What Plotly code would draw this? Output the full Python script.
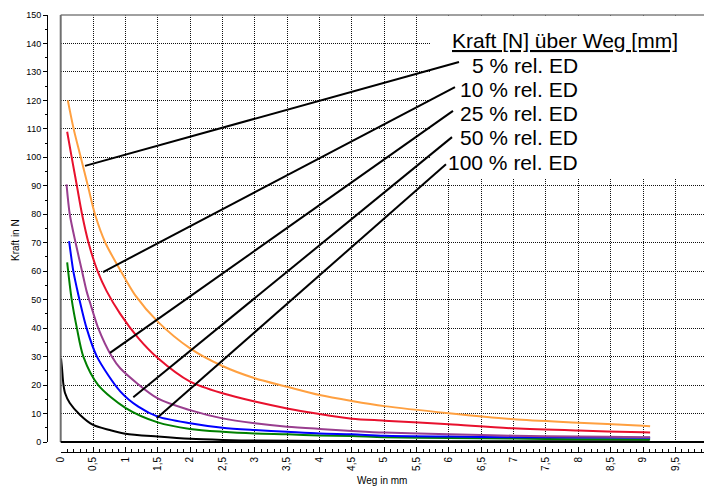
import plotly.graph_objects as go

# ---------------- data ----------------
x_orange = [0.11, 0.2, 0.31, 0.42, 0.53, 0.69, 0.92, 1.15, 1.5, 2.0, 2.5, 3.0, 3.5, 4.0, 4.5, 5.0, 6.0, 7.0, 8.0, 9.0, 9.11]
y_orange = [120, 110, 100, 90, 80, 70, 60.4, 51.6, 42.3, 32.9, 26.7, 22.4, 19.4, 16.5, 14.4, 12.6, 10.1, 8.0, 6.8, 5.7, 5.5]

x_red = [0.1, 0.17, 0.25, 0.33, 0.43, 0.57, 0.71, 0.92, 1.2, 1.5, 2.0, 2.5, 3.0, 3.5, 4.0, 4.5, 5.0, 6.0, 7.0, 8.0, 9.0, 9.11]
y_red = [109, 100, 90, 80, 70, 60, 53, 45, 36.5, 29.5, 21.2, 17.1, 14.2, 11.8, 9.8, 8.2, 7.5, 6.2, 4.8, 4.0, 3.4, 3.3]

x_purple = [0.09, 0.14, 0.23, 0.33, 0.40, 0.46, 0.58, 0.79, 0.92, 1.5, 2.0, 2.5, 3.0, 3.5, 4.0, 4.5, 5.0, 6.0, 7.0, 8.0, 9.0, 9.11]
y_purple = [90.5, 80, 70, 60, 53, 48.5, 40, 30, 25.9, 15.3, 11.2, 8.3, 6.6, 5.4, 4.6, 3.9, 3.3, 2.7, 2.2, 1.9, 1.7, 1.7]

x_blue = [0.13, 0.195, 0.25, 0.29, 0.40, 0.56, 0.92, 1.2, 1.5, 2.0, 2.5, 3.0, 3.5, 4.0, 4.5, 5.0, 6.0, 7.0, 8.0, 9.0, 9.11]
y_blue = [70.6, 60, 54, 50, 40, 30, 17.8, 12.4, 8.9, 6.6, 5.0, 4.2, 3.6, 3.0, 2.7, 2.2, 1.9, 1.7, 1.6, 1.5, 1.5]

x_green = [0.10, 0.17, 0.25, 0.35, 0.58, 1.0, 1.5, 2.0, 2.5, 3.0, 3.5, 4.0, 4.5, 5.0, 6.0, 7.0, 8.0, 9.0, 9.11]
y_green = [63.1, 50, 40, 30, 20, 12.0, 6.9, 4.6, 3.6, 3.0, 2.7, 2.3, 2.1, 1.7, 1.4, 1.2, 1.0, 0.9, 0.9]

x_black = [0.005, 0.02, 0.04, 0.067, 0.14, 0.3, 0.5, 0.76, 1.0, 1.5, 2.0, 2.5, 3.0, 4.0, 6.0, 9.1]
y_black = [29.4, 26, 20.6, 17.2, 13.7, 9.5, 6.0, 4.2, 2.9, 1.9, 1.1, 0.7, 0.5, 0.35, 0.3, 0.3]

series_names = ["5 % rel. ED", "10 % rel. ED", "25 % rel. ED", "50 % rel. ED", "100 % rel. ED"]
legend_title = "Kraft [N] über Weg [mm]"

# leader lines (label -> curve)
lead_x0 = [0.376, 0.654, 0.762, 1.122, 1.484]
lead_y0 = [97.0, 59.7, 31.3, 15.7, 8.3]
lead_x1 = [6.156, 6.094, 6.063, 6.048, 5.955]
lead_y1 = [133.5, 124.7, 116.3, 107.1, 97.6]
label_x = 8.026
label_y = [132.3, 124.0, 115.5, 107.0, 98.1]
title_pos = (7.794, 141.2)

x_tickvals = [i * 0.5 for i in range(21)]
x_ticktext = ["0", "0,5", "1", "1,5", "2", "2,5", "3", "3,5", "4", "4,5", "5",
              "5,5", "6", "6,5", "7", "7,5", "8", "8,5", "9", "9,5", "10"]
y_tickvals = list(range(0, 151, 10))
y_ticktext = [str(v) for v in y_tickvals]

# ---------------- figure ----------------
FONT = "Arial, Liberation Sans, sans-serif"
W, H = 704, 489
ml, mr, mt, mb = 47, 0, 15, 37
plot_left_px, plot_bottom_px = 60.7, 442
xdom0 = (plot_left_px - ml) / (W - ml - mr)
ydom0 = ((H - mb) - plot_bottom_px) / (H - mt - mb)
xmax = (W - plot_left_px) / 64.7

fig = go.Figure()
curves = [
    (x_black, y_black, "#000000"),
    (x_green, y_green, "#008000"),
    (x_blue, y_blue, "#0000FF"),
    (x_purple, y_purple, "#993E8F"),
    (x_red, y_red, "#E8112D"),
    (x_orange, y_orange, "#FFA040"),
]
for xs, ys, col in curves:
    fig.add_trace(go.Scatter(x=xs, y=ys, mode="lines",
                             line=dict(color=col, width=2, shape="spline", smoothing=0.8),
                             showlegend=False, hoverinfo="skip"))

shapes = []
# white box behind the legend text (covers grid)
shapes.append(dict(type="rect", xref="x", yref="y", x0=5.71, x1=xmax, y0=92.5, y1=149.6,
                   fillcolor="white", line=dict(width=0), layer="between"))
# plot borders
shapes.append(dict(type="line", xref="x domain", yref="y domain", x0=0, x1=1, y0=1, y1=1,
                   line=dict(color="#808080", width=1.5)))
shapes.append(dict(type="line", xref="x domain", yref="y domain", x0=0, x1=0, y0=0, y1=1,
                   line=dict(color="#707070", width=2)))
shapes.append(dict(type="line", xref="x domain", yref="y domain", x0=0, x1=1, y0=0, y1=0,
                   line=dict(color="#000000", width=2)))
for a, b, c, d in zip(lead_x0, lead_y0, lead_x1, lead_y1):
    shapes.append(dict(type="line", xref="x", yref="y", x0=a, y0=b, x1=c, y1=d,
                       line=dict(color="black", width=2)))

annotations = []
annotations.append(dict(xref="x", yref="y", x=title_pos[0], y=title_pos[1],
                        text="<u>" + legend_title + "</u>", showarrow=False,
                        xanchor="center", yanchor="middle",
                        font=dict(family=FONT, size=21, color="black")))
for name, ly in zip(series_names, label_y):
    annotations.append(dict(xref="x", yref="y", x=label_x, y=ly, text=name, showarrow=False,
                            xanchor="right", yanchor="middle",
                            font=dict(family=FONT, size=21, color="black")))
annotations.append(dict(xref="paper", yref="paper", x=(382 - ml) / (W - ml - mr),
                        y=((H - mb) - 481) / (H - mt - mb), text="Weg in mm", showarrow=False,
                        xanchor="center", yanchor="middle",
                        font=dict(family=FONT, size=10, color="black")))
annotations.append(dict(xref="paper", yref="paper", x=(15 - ml) / (W - ml - mr),
                        y=((H - mb) - 240) / (H - mt - mb), text="Kraft in N", showarrow=False,
                        textangle=-90, xanchor="center", yanchor="middle",
                        font=dict(family=FONT, size=10, color="black")))

fig.update_layout(
    width=W, height=H, autosize=False,
    margin=dict(l=ml, r=mr, t=mt, b=mb, pad=0),
    paper_bgcolor="white", plot_bgcolor="white",
    shapes=shapes, annotations=annotations,
    xaxis=dict(domain=[xdom0, 1], range=[0, xmax], anchor="free", position=0,
               tickmode="array", tickvals=x_tickvals, ticktext=x_ticktext,
               tickangle=-90, ticks="inside", ticklen=5, tickcolor="black",
               tickfont=dict(family=FONT, size=10, color="black"),
               showline=True, linecolor="black", linewidth=1,
               showgrid=True, gridcolor="#111111", griddash="1px,1px", gridwidth=1,
               zeroline=False, automargin=False,
               minor=dict(dtick=0.1, tick0=0, ticks="inside", ticklen=3, tickcolor="black", showgrid=False)),
    yaxis=dict(domain=[ydom0, 1], range=[0, 150], anchor="free", position=0,
               tickmode="array", tickvals=y_tickvals, ticktext=y_ticktext,
               ticks="outside", ticklen=4, tickcolor="black",
               tickfont=dict(family=FONT, size=9, color="black"),
               showline=True, linecolor="black", linewidth=1,
               showgrid=True, gridcolor="#111111", griddash="1px,1px", gridwidth=1,
               zeroline=False, automargin=False,
               minor=dict(dtick=5, tick0=0, ticks="outside", ticklen=2, tickcolor="black", showgrid=False)),
)

fig.write_html("out.html", config={"displayModeBar": False, "staticPlot": True},
               post_script="document.body.style.margin='0';document.body.style.overflow='hidden';")
